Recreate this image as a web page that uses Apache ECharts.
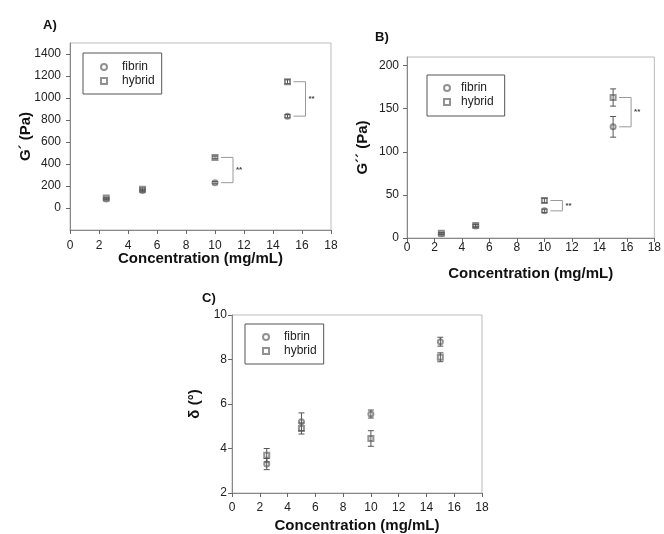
<!DOCTYPE html>
<html><head><meta charset="utf-8">
<script src="https://cdn.jsdelivr.net/npm/echarts@6/dist/echarts.min.js"></script>
<style>html,body{margin:0;padding:0;background:#fff}#c{width:664px;height:534px}</style>
</head><body><div id="c"></div>
<script>
// ---------- data ----------
const concentrations = [2.5, 5, 10, 15];
const seriesNames = ['fibrin', 'hybrid'];

// Panel A: G' (Pa)
const gPrimeFibrin    = [82, 158, 230, 835];
const gPrimeFibrinErr = [8, 12, 10, 15];
const gPrimeHybrid    = [90, 170, 460, 1148];
const gPrimeHybridErr = [8, 12, 12, 18];
const gPrimeTicks = [0, 200, 400, 600, 800, 1000, 1200, 1400];

// Panel B: G'' (Pa)
const gDoubleFibrin    = [5, 14, 31.5, 129];
const gDoubleFibrinErr = [1, 1.5, 2, 12];
const gDoubleHybrid    = [5.5, 14.5, 43.5, 163];
const gDoubleHybridErr = [1, 1.5, 2.5, 10];
const gDoubleTicks = [0, 50, 100, 150, 200];

// Panel C: delta (deg)
const deltaFibrin    = [3.3, 5.2, 5.55, 8.8];
const deltaFibrinErr = [0.25, 0.4, 0.18, 0.2];
const deltaHybrid    = [3.7, 4.9, 4.45, 8.1];
const deltaHybridErr = [0.3, 0.25, 0.35, 0.2];
const deltaTicks = [2, 4, 6, 8, 10];

const xTicks = [0, 2, 4, 6, 8, 10, 12, 14, 16, 18];

// significance brackets (indices into concentrations) and labels
const sigIndexA = [2, 3];
const sigLabelA = ['**', '**'];
const sigIndexB = [2, 3];
const sigLabelB = ['**', '**'];

// ---------- styling ----------
const FONT = 'Liberation Sans, Arial, sans-serif';
const MARK = '#777';

const grids = [
  {left: 70, top: 43, width: 261, height: 187},
  {left: 407, top: 57, width: 250, height: 181},
  {left: 232, top: 315, width: 250, height: 179}
];

function xAxisFor(gi, labelMargin, nameGap) {
  return {
    gridIndex: gi, type: 'value', min: 0, max: 18,
    name: 'Concentration (mg/mL)', nameLocation: 'middle', nameGap: nameGap, nameMoveOverlap: false,
    nameTextStyle: {fontFamily: FONT, fontSize: 15, fontWeight: 'bold', color: '#111'},
    axisLine: {onZero: false, lineStyle: {color: '#888', width: 1}},
    axisTick: {length: 4, customValues: xTicks, lineStyle: {color: '#666'}},
    axisLabel: {margin: labelMargin, customValues: xTicks, formatter: v => String(v),
      fontFamily: FONT, fontSize: 12, color: '#222'},
    splitLine: {show: false}
  };
}
function yAxisFor(gi, min, max, ticks, name, labelMargin, nameGap) {
  return {
    gridIndex: gi, type: 'value', min: min, max: max,
    name: name, nameLocation: 'middle', nameGap: nameGap, nameMoveOverlap: false,
    nameTextStyle: {fontFamily: FONT, fontSize: 15, fontWeight: 'bold', color: '#111'},
    axisLine: {onZero: false, lineStyle: {color: '#888', width: 1}},
    axisTick: {length: 4, customValues: ticks, lineStyle: {color: '#666'}},
    axisLabel: {margin: labelMargin, customValues: ticks, formatter: v => String(v),
      fontFamily: FONT, fontSize: 12, color: '#222'},
    splitLine: {show: false}
  };
}

function pts(ys) { return concentrations.map((x, i) => [x, ys[i]]); }
function errPts(ys, es) { return concentrations.map((x, i) => [x, ys[i], es[i]]); }

function errRender(params, api) {
  const x = api.value(0), y = api.value(1), e = api.value(2);
  const t = api.coord([x, y + e]), b = api.coord([x, y - e]);
  const c = 3;
  const st = {stroke: '#555', lineWidth: 1};
  return {type: 'group', children: [
    {type: 'line', shape: {x1: t[0], y1: t[1], x2: b[0], y2: b[1]}, style: st},
    {type: 'line', shape: {x1: t[0] - c, y1: t[1], x2: t[0] + c, y2: t[1]}, style: st},
    {type: 'line', shape: {x1: b[0] - c, y1: b[1], x2: b[0] + c, y2: b[1]}, style: st}
  ]};
}

function bracketRenderer(labels) {
  return function (params, api) {
    const x = api.value(0), y1 = api.value(1), y2 = api.value(2);
    const p1 = api.coord([x, y1]), p2 = api.coord([x, y2]);
    const a = p1[0] + 6, b = p1[0] + 18;
    return {type: 'group', children: [
      {type: 'polyline', shape: {points: [[a, p1[1]], [b, p1[1]], [b, p2[1]], [a, p2[1]]]},
       style: {stroke: '#999', fill: null, lineWidth: 1}},
      {type: 'text', style: {text: labels[params.dataIndex], x: b + 3, y: (p1[1] + p2[1]) / 2,
        verticalAlign: 'middle', align: 'left', font: 'bold 8px ' + FONT, fill: '#444'}}
    ]};
  };
}

function panelSeries(gi, fib, fibErr, hyb, hybErr, sigIdx, sigLab) {
  const out = [
    {type: 'scatter', name: seriesNames[0], xAxisIndex: gi, yAxisIndex: gi, data: pts(fib),
     symbol: 'emptyCircle', symbolSize: 5, itemStyle: {color: MARK, borderWidth: 1}, z: 3},
    {type: 'scatter', name: seriesNames[1], xAxisIndex: gi, yAxisIndex: gi, data: pts(hyb),
     symbol: 'emptyRect', symbolSize: 5, itemStyle: {color: MARK, borderWidth: 1}, z: 3},
    {type: 'custom', xAxisIndex: gi, yAxisIndex: gi, data: errPts(fib, fibErr), renderItem: errRender, z: 4, silent: true},
    {type: 'custom', xAxisIndex: gi, yAxisIndex: gi, data: errPts(hyb, hybErr), renderItem: errRender, z: 4, silent: true}
  ];
  if (sigIdx) {
    out.push({type: 'custom', xAxisIndex: gi, yAxisIndex: gi,
      data: sigIdx.map(i => [concentrations[i], fib[i], hyb[i]]),
      renderItem: bracketRenderer(sigLab), z: 2, silent: true});
  }
  return out;
}

function legendFor(left, top, padding, textShift) {
  return {
    left: left, top: top, orient: 'vertical',
    data: seriesNames,
    selectedMode: false,
    borderColor: '#555', borderWidth: 1, padding: padding,
    itemWidth: 6, itemHeight: 6, itemGap: 2,
    textStyle: {fontFamily: FONT, fontSize: 12, color: '#222', padding: [0, 0, 0, textShift]}
  };
}

const TITLE = {fontFamily: FONT, fontSize: 13, fontWeight: 'bold', color: '#111'};
const chart = echarts.init(document.getElementById('c'), null, {renderer: 'canvas'});
chart.setOption({
  backgroundColor: '#fff',
  animation: false,
  title: [
    {text: 'A)', left: 43, top: 19, padding: 0, textStyle: TITLE},
    {text: 'B)', left: 375, top: 31, padding: 0, textStyle: TITLE},
    {text: 'C)', left: 202, top: 292, padding: 0, textStyle: TITLE}
  ],
  grid: grids.map(g => Object.assign({show: true, borderColor: '#bbb', borderWidth: 1, backgroundColor: 'transparent'}, g)),
  legend: [
    legendFor(83, 53, [8, 7, 7, 17], 10),
    legendFor(427, 75, [7, 11, 8, 16], 6),
    legendFor(245, 324, [7, 7, 7, 17], 10)
  ],
  xAxis: [xAxisFor(0, 10, 21), xAxisFor(1, 4, 28), xAxisFor(2, 9, 25)],
  yAxis: [
    yAxisFor(0, -200, 1500, gPrimeTicks, 'G\u00B4 (Pa)', 9, 37),
    yAxisFor(1, 0, 210, gDoubleTicks, 'G\u00B4\u00B4 (Pa)', 8, 37),
    yAxisFor(2, 2, 10, deltaTicks, '\u03B4 (\u00B0)', 5, 30)
  ],
  series: [].concat(
    panelSeries(0, gPrimeFibrin, gPrimeFibrinErr, gPrimeHybrid, gPrimeHybridErr, sigIndexA, sigLabelA),
    panelSeries(1, gDoubleFibrin, gDoubleFibrinErr, gDoubleHybrid, gDoubleHybridErr, sigIndexB, sigLabelB),
    panelSeries(2, deltaFibrin, deltaFibrinErr, deltaHybrid, deltaHybridErr, null, null)
  )
});
</script>
</body></html>
